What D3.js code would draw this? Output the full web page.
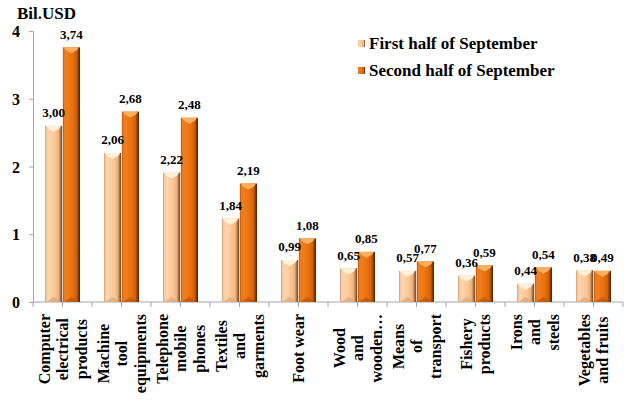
<!DOCTYPE html>
<html><head><meta charset="utf-8">
<script src="https://cdn.jsdelivr.net/npm/d3@7"></script>
<style>
body{margin:0;background:#fff}
svg{display:block}
svg text{font-family:"Liberation Serif","Times New Roman",Tinos,"DejaVu Serif",serif !important;font-weight:bold;fill:#000}
</style>
</head><body><svg id="c" width="624" height="414"></svg>
<script>
const categories = [
  ["Computer","electrical","products"],
  ["Machine","tool","equipments"],
  ["Telephone","mobile","phones"],
  ["Textiles","and","garments"],
  ["Foot wear"],
  ["Wood","and","wooden…"],
  ["Means","of","transport"],
  ["Fishery","products"],
  ["Irons","and","steels"],
  ["Vegetables","and fruits"]
];
const seriesNames = ["First half of September","Second half of September"];
const firstHalf  = [2.60,2.20,1.91,1.23,0.62,0.50,0.46,0.39,0.27,0.47];
const secondHalf = [3.76,2.81,2.72,1.75,0.94,0.74,0.60,0.54,0.51,0.46];
const firstLabels  = ["3,00","2,06","2,22","1,84","0,99","0,65","0,57","0,36","0,44","0,38"];
const secondLabels = ["3,74","2,68","2,48","2,19","1,08","0,85","0,77","0,59","0,54","0,49"];
const yTicks = [0,1,2,3,4];
const yTitle = "Bil.USD";

const FONT = '"Liberation Serif","Times New Roman",Tinos,"DejaVu Serif",serif';
const svg = d3.select("#c");
const catIdx = d3.range(categories.length);
const x0 = d3.scaleBand().domain(catIdx).range([33, 623]).padding(0);
const x1 = d3.scaleBand().domain([0,1]).range([12, x0.bandwidth()-12]).paddingInner(0.04);
const y = d3.scaleLinear().domain([0,4]).range([302, 31]);

const defs = svg.append("defs");
function grad(id, stops){
  const g = defs.append("linearGradient").attr("id", id).attr("x1","0").attr("x2","1").attr("y1","0").attr("y2","0");
  stops.forEach(s => g.append("stop").attr("offset", s[0]).attr("stop-color", s[1]));
}
grad("g0", [["0%","#c99670"],["8%","#f6c9a0"],["22%","#fdd6ae"],["60%","#fbc592"],["80%","#eeb07c"],["90%","#a8764e"],["100%","#6a4426"]]);
grad("g1", [["0%","#b05206"],["8%","#ee7a1c"],["25%","#f07d1c"],["60%","#e76f0c"],["80%","#d05f06"],["90%","#8a3d04"],["100%","#4c2302"]]);
const topCol = ["#fff0d8","#fbb060"];
const botCol = ["#d7a47a","#b4560a"];

const series = [firstHalf, secondHalf];
const labels = [firstLabels, secondLabels];

// axes
const gy = svg.append("g").attr("transform","translate(33,0)")
  .call(d3.axisLeft(y).tickValues(yTicks).tickSize(4).tickFormat(d3.format("d")));
gy.attr("font-family", FONT);
gy.select(".domain").attr("stroke","#a6a6a6");
gy.selectAll(".tick line").attr("stroke","#a6a6a6");
gy.selectAll(".tick text").attr("font-size",16).attr("x",-13).attr("dy","0.35em")
  .attr("font-family",FONT).attr("font-weight","bold").attr("fill","#000");

const gx = svg.append("g");
gx.append("line").attr("x1",x0.range()[0]).attr("x2",x0.range()[1]).attr("y1",y(0)).attr("y2",y(0)).attr("stroke","#a6a6a6");
const tickXs = [];
catIdx.forEach(i => { tickXs.push(x0(i)); tickXs.push(x0(i)+x0.bandwidth()/2); });
tickXs.push(x0.range()[1]);
gx.selectAll("line.t").data(tickXs).join("line").attr("class","t")
  .attr("x1",d=>d).attr("x2",d=>d).attr("y1",y(0)).attr("y2",y(0)+5).attr("stroke","#a6a6a6");

// bars
series.forEach((vals, s) => {
  const g = svg.append("g");
  catIdx.forEach(i => {
    const bx = x0(i) + x1(s), bw = x1.bandwidth(), top = y(vals[i]), base = y(0);
    g.append("rect").attr("x",bx).attr("y",top).attr("width",bw).attr("height",base-top).attr("fill",`url(#g${s})`);
    g.append("path").attr("d",`M${bx+1},${base}L${bx+bw-1},${base}L${bx+bw/2},${base-5}Z`).attr("fill",botCol[s]).attr("opacity",0.7);
    g.append("path").attr("d",`M${bx+1},${top}L${bx+bw-1},${top}L${bx+bw-3},${top+3}L${bx+bw/2},${top+6}L${bx+3},${top+3}Z`).attr("fill",topCol[s]);
  });
});

// data labels
series.forEach((vals, s) => {
  svg.append("g").selectAll("text").data(catIdx).join("text")
    .attr("x", i => x0(i)+x1(s)+x1.bandwidth()/2)
    .attr("y", i => y(vals[i]) - 8.5)
    .attr("text-anchor","middle").attr("font-size",13).attr("font-family",FONT).attr("font-weight","bold")
    .text(i => labels[s][i]);
});

// category labels
const lineGap = 18.5, topY = 314;
catIdx.forEach(i => {
  const lines = categories[i];
  const cx = x0(i) + x0.bandwidth()/2;
  const g = svg.append("g");
  const ts = lines.map((t, k) => g.append("text").attr("font-size",16).attr("font-family",FONT).attr("font-weight","bold").attr("text-anchor","middle").text(t));
  const maxLen = d3.max(ts, t => t.node().getComputedTextLength());
  ts.forEach((t, k) => {
    const off = (k - (lines.length-1)/2) * lineGap;
    t.attr("transform", `translate(${cx+off+5.5},${topY+maxLen/2}) rotate(-90)`);
  });
});

// y title
svg.append("text").attr("x",17).attr("y",19).attr("font-size",17).attr("font-family",FONT).attr("font-weight","bold").text(yTitle);

// legend
const lg = svg.append("g");
seriesNames.forEach((n, s) => {
  const ly = 40 + s*27;
  lg.append("rect").attr("x",358).attr("y",ly).attr("width",7).attr("height",7).attr("fill",`url(#g${s})`);
  lg.append("text").attr("x",369).attr("y",ly+9).attr("font-size",17).attr("font-family",FONT).attr("font-weight","bold").text(n);
});
</script>
</body></html>
